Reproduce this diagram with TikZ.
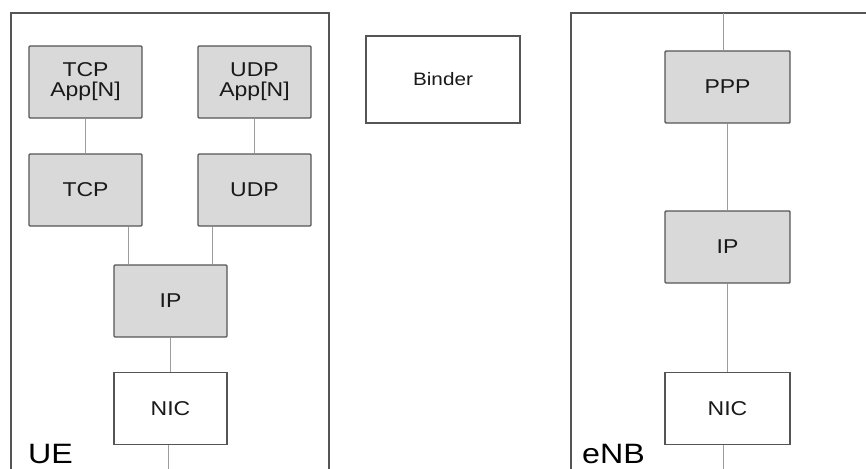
\documentclass[tikz,border=0pt]{standalone}
\usepackage{fontspec}
\setmainfont{Liberation Sans}[FakeStretch=1.15]
\definecolor{layergray}{HTML}{D9D9D9}
\definecolor{edgegray}{HTML}{555555}
\definecolor{wiregray}{HTML}{9C9C9C}

\begin{document}
\begin{tikzpicture}[x=1pt,y=-1pt,
  layer/.style={draw=edgegray, line width=1.4pt, fill=layergray, rounded corners=1pt,
    minimum width=113pt, minimum height=72pt, inner sep=0pt, align=center,
    font=\fontsize{20}{20}\selectfont, text=black!90},
  plain/.style={layer, fill=white, rounded corners=0pt},
  wire/.style={draw=wiregray, line width=0.9pt},
  frame/.style={draw=edgegray, line width=1.5pt},
  tag/.style={anchor=base west, inner sep=0pt, font=\fontsize{28}{28}\selectfont, text=black}]

\useasboundingbox (0,0) rectangle (866,468);
\clip (0,0) rectangle (866,468);

% Containers
\draw[frame] (11,13) rectangle (329,490);
\draw[frame] (571,13) rectangle (900,490);
\node[tag] (uetag) at (28,463) {UE};
\node[tag] (enbtag) at (582,463) {eNB};

% UE stack
\node[layer] (tcpapp) at (85.5,82) {TCP\\App[N]};
\node[layer] (udpapp) at (254.5,82) {UDP\\App[N]};
\node[layer] (tcp) at (85.5,190) {TCP};
\node[layer] (udp) at (254.5,190) {UDP};
\node[layer] (ueip) at (170.5,301) {IP};
\node[plain] (uenic) at (170.5,408.5) {NIC};

% Binder
\node[plain, minimum width=154pt, minimum height=87pt,
  font=\fontsize{18}{18}\selectfont] (binder) at (443,79.5) {Binder};

% eNB stack
\node[layer, minimum width=125pt] (ppp) at (727.5,87) {PPP};
\node[layer, minimum width=125pt] (enbip) at (727.5,247) {IP};
\node[plain, minimum width=125pt] (enbnic) at (727.5,408.5) {NIC};

% Links
\draw[wire] (tcpapp) -- (tcp);
\draw[wire] (udpapp) -- (udp);
\draw[wire] (tcp.south -| 128,0) -- (ueip.north -| 128,0);
\draw[wire] (udp.south -| 212,0) -- (ueip.north -| 212,0);
\draw[wire] (ueip) -- (uenic);
\coordinate (uelink) at (168,490);
\draw[wire] (uenic.south -| uelink) -- (uelink);

\coordinate (enbtop) at (723,13);
\draw[wire] (enbtop) -- (ppp.north -| enbtop);
\draw[wire] (ppp) -- (enbip);
\draw[wire] (enbip) -- (enbnic);
\coordinate (enblink) at (723,490);
\draw[wire] (enbnic.south -| enblink) -- (enblink);

\end{tikzpicture}
\end{document}
